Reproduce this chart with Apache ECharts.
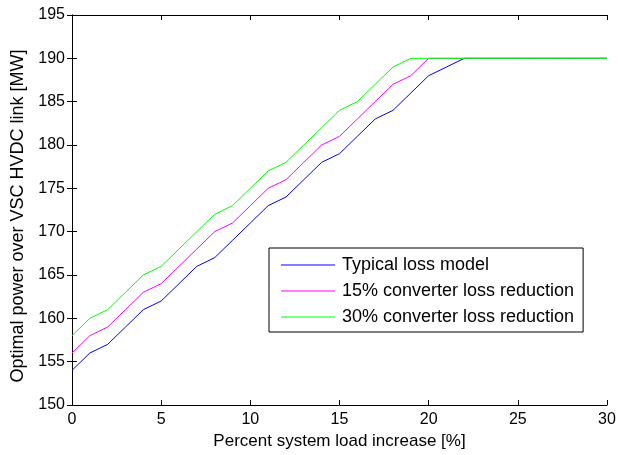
<!DOCTYPE html>
<html>
<head>
<meta charset="utf-8">
<script src="https://cdn.jsdelivr.net/npm/echarts@6/dist/echarts.min.js"></script>
<style>
  html, body { margin: 0; padding: 0; background: #fff; }
  #main { width: 618px; height: 455px; }
</style>
</head>
<body>
<div id="main"></div>
<script>
// load increase [%]
var loadIncrease = [0,1,2,3,4,5,6,7,8,9,10,11,12,13,14,15,16,17,18,19,20,21,22,23,24,25,26,27,28,29,30];
// optimal power over VSC HVDC link [MW]
var typicalLoss = [154,156,157,159,161,162,164,166,167,169,171,173,174,176,178,179,181,183,184,186,188,189,190,190,190,190,190,190,190,190,190];
var reduction15 = [156,158,159,161,163,164,166,168,170,171,173,175,176,178,180,181,183,185,187,188,190,190,190,190,190,190,190,190,190,190,190];
var reduction30 = [158,160,161,163,165,166,168,170,172,173,175,177,178,180,182,184,185,187,189,190,190,190,190,190,190,190,190,190,190,190,190];
var seriesNames = ['Typical loss model', '15% converter loss reduction', '30% converter loss reduction'];
var seriesColors = ['#0000ff', '#ff00ff', '#00ff00'];

function pairs(ys) {
  return loadIncrease.map(function (x, i) { return [x, ys[i]]; });
}

var font = 'Liberation Sans, Arial, Helvetica, sans-serif';
var chart = echarts.init(document.getElementById('main'), null, { renderer: 'canvas' });

var tickStyle = { show: true, inside: true, length: 5, lineStyle: { color: '#000', width: 1 } };
var lineStyle = { show: true, lineStyle: { color: '#000', width: 1 } };

var option = {
  animation: false,
  backgroundColor: '#fff',
  textStyle: { fontFamily: font },
  grid: { left: 72, right: 11, top: 15, bottom: 50, show: false, containLabel: false, outerBoundsMode: 'none' },
  legend: {
    orient: 'vertical',
    left: 269,
    top: 248,
    padding: [8, 9, 6, 12],
    itemGap: 8,
    itemWidth: 54,
    itemHeight: 1,
    icon: 'rect',
    borderColor: '#000',
    borderWidth: 1,
    backgroundColor: '#fff',
    textStyle: { fontFamily: font, fontSize: 18, color: '#000', padding: [0, 0, 0, 2] },
    data: seriesNames
  },
  xAxis: [{
    type: 'value', min: 0, max: 30, interval: 5,
    name: 'Percent system load increase [%]',
    nameLocation: 'middle', nameGap: 28,
    nameTextStyle: { fontFamily: font, fontSize: 17, color: '#000' },
    axisLine: lineStyle, axisTick: tickStyle,
    axisLabel: { fontFamily: font, fontSize: 16, color: '#000', margin: 7 },
    splitLine: { show: false }
  }, {
    type: 'value', min: 0, max: 30, interval: 5, position: 'top',
    axisLine: lineStyle, axisTick: tickStyle,
    axisLabel: { show: false }, splitLine: { show: false }
  }],
  yAxis: [{
    type: 'value', min: 150, max: 195, interval: 5,
    name: 'Optimal power over VSC HVDC link [MW]',
    nameLocation: 'middle', nameGap: 45,
    nameTextStyle: { fontFamily: font, fontSize: 18, color: '#000', padding: [0, 12, 0, 0] },
    axisLine: lineStyle, axisTick: tickStyle,
    axisLabel: { fontFamily: font, fontSize: 16, color: '#000', margin: 7 },
    splitLine: { show: false }
  }, {
    type: 'value', min: 150, max: 195, interval: 5, position: 'right',
    axisLine: lineStyle, axisTick: tickStyle,
    axisLabel: { show: false }, splitLine: { show: false }
  }],
  series: [typicalLoss, reduction15, reduction30].map(function (ys, i) {
    return {
      name: seriesNames[i],
      type: 'line',
      data: pairs(ys),
      showSymbol: false,
      symbol: 'none',
      lineStyle: { color: seriesColors[i], width: 1 },
      itemStyle: { color: seriesColors[i] }
    };
  })
};
chart.setOption(option);
</script>
</body>
</html>
